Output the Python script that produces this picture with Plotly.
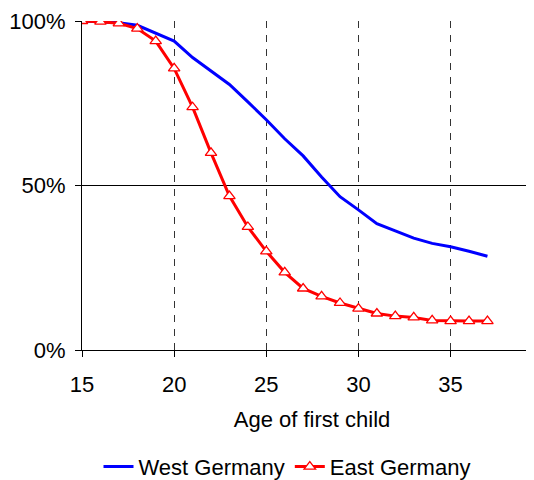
import plotly.graph_objects as go

ages = list(range(15, 38))
west = [1.000, 0.998, 0.995, 0.987, 0.964, 0.939, 0.889, 0.849, 0.807, 0.754, 0.700,
        0.642, 0.590, 0.526, 0.466, 0.426, 0.384, 0.362, 0.340, 0.324, 0.314, 0.300, 0.285]
east = [1.000, 0.998, 0.993, 0.977, 0.939, 0.856, 0.738, 0.599, 0.468, 0.374, 0.300,
        0.236, 0.187, 0.163, 0.143, 0.126, 0.111, 0.103, 0.099, 0.090, 0.088, 0.088, 0.088]
x_ticks = [15, 20, 25, 30, 35]
y_ticks = [0, 0.5, 1.0]

FONT = "Liberation Sans, Arial, sans-serif"
FS = 22

fig = go.Figure()
fig.add_trace(go.Scatter(x=ages, y=west, mode="lines", name="West Germany",
                         line=dict(color="#0000FF", width=3)))
fig.add_trace(go.Scatter(x=ages, y=east, mode="lines+markers", name="East Germany",
                         line=dict(color="#FF0000", width=3),
                         marker=dict(symbol="triangle-up", size=10, color="white",
                                     line=dict(color="#FF0000", width=1.3))))

# page body has an 8px default margin, so the figure is offset by 8px
fig.update_layout(
    width=534, height=472,
    margin=dict(l=74, r=0, t=13, b=130, autoexpand=False),
    paper_bgcolor="white", plot_bgcolor="white",
    font=dict(family=FONT, size=FS, color="black"),
    showlegend=True,
    legend=dict(orientation="h", xref="container", yref="container",
                x=279 / 534, xanchor="center", y=0.028, yanchor="middle",
                font=dict(size=FS), itemwidth=30, tracegroupgap=0),
    xaxis=dict(range=[15, 39.96], tickvals=x_ticks, ticks="outside", ticklen=6,
               tickcolor="black", showline=True, linecolor="black", linewidth=1,
               showgrid=True, gridcolor="#333333", griddash="7px,7px", gridwidth=1,
               zeroline=False, tickfont=dict(size=FS), automargin=False,
               ticklabelstandoff=9, ticklabeloverflow="allow",
               title=dict(text="Age of first child", standoff=15, font=dict(size=FS))),
    yaxis=dict(range=[0, 1.0], tickvals=y_ticks, tickformat=".0%", ticks="outside",
               ticklen=6, tickcolor="black", showline=True, linecolor="black",
               linewidth=1, showgrid=True, gridcolor="black", gridwidth=1,
               zeroline=False, tickfont=dict(size=FS), automargin=False,
               ticklabelstandoff=5, ticklabeloverflow="allow"),
)

fig.write_html("out.html")
